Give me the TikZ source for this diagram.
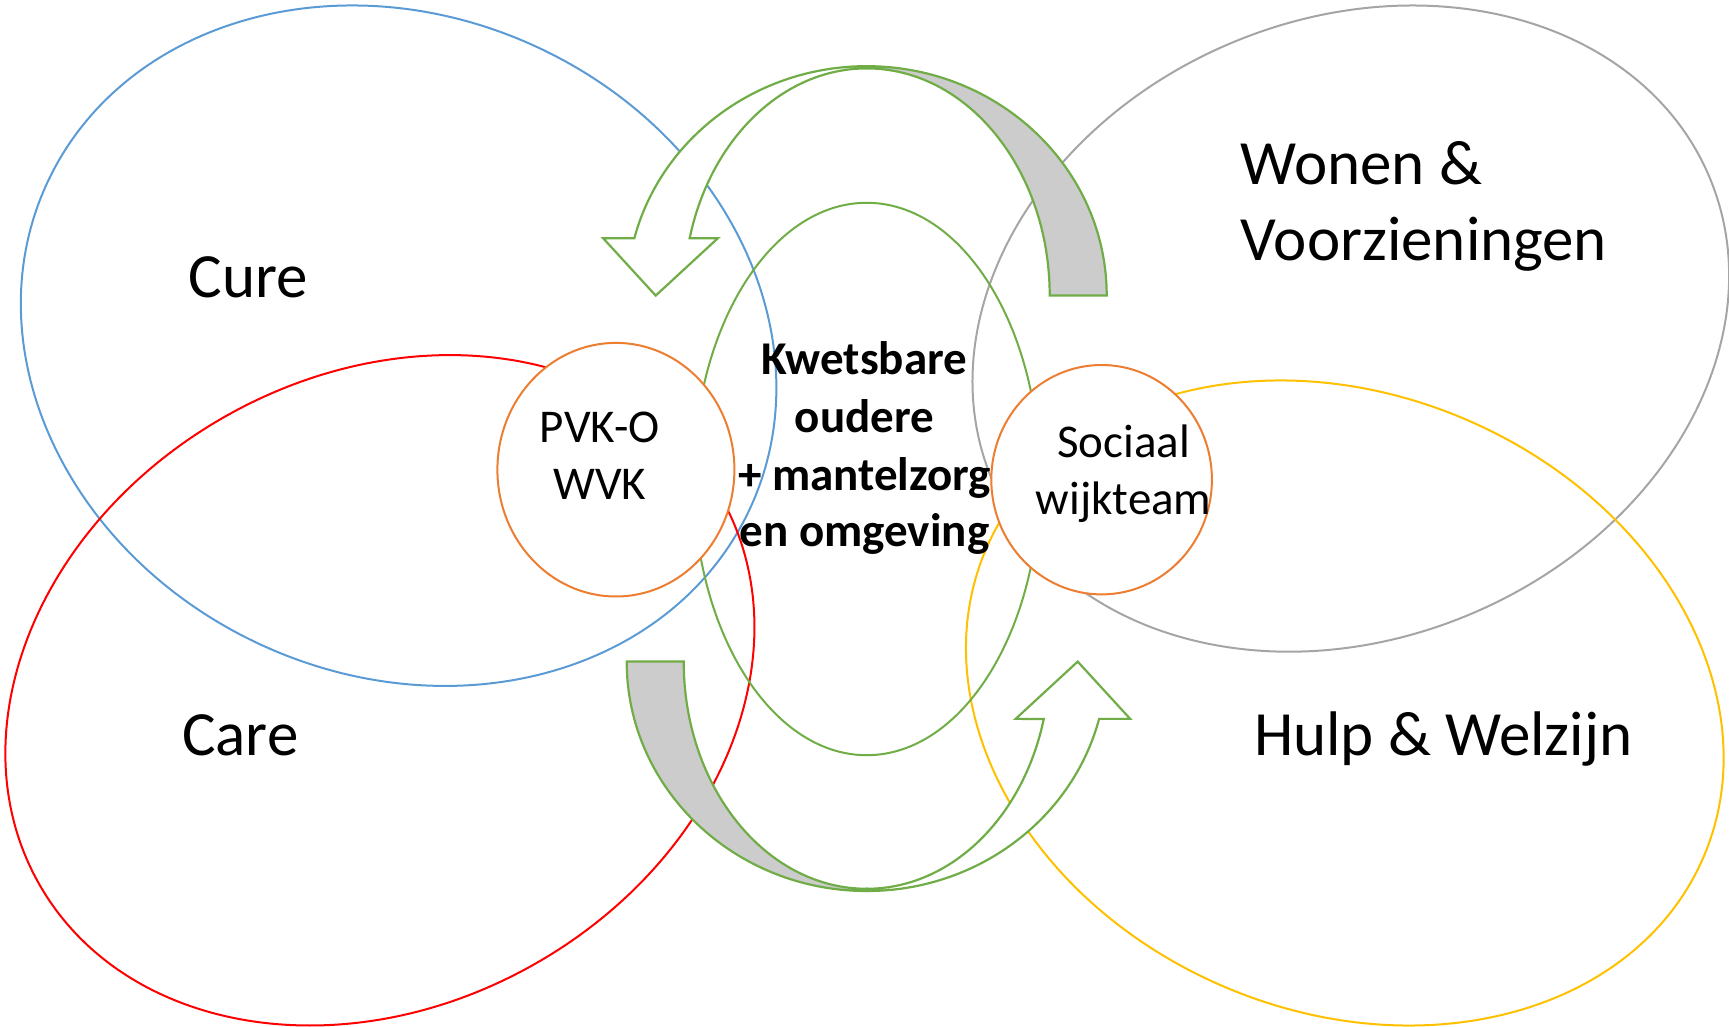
\documentclass[tikz,border=0pt]{standalone}
\usepackage{fontspec}
\setmainfont{Carlito}
\definecolor{cblue}{HTML}{5B9BD5}
\definecolor{cred}{HTML}{FF0000}
\definecolor{cgray}{HTML}{A5A5A5}
\definecolor{cyellow}{HTML}{FFC000}
\definecolor{cgreen}{HTML}{70AD47}
\definecolor{corange}{HTML}{ED7D31}
\definecolor{cfill}{HTML}{CCCCCC}
\begin{document}
\begin{tikzpicture}[x=1pt,y=1pt,
  ring/.style={line width=2pt},
  fieldring/.style={ring,draw},
  actor/.style={ring,draw=corange,fill=white},
  band/.style={line width=2.2pt,draw=cgreen,line join=miter},
  big/.style={inner sep=0pt,font=\fontsize{63}{76}\selectfont},
  mid/.style={inner sep=0pt,font=\fontsize{47}{57}\selectfont},
  core/.style={inner sep=0pt,font=\bfseries\fontsize{47}{57}\selectfont}]
\useasboundingbox (0,0) rectangle (1729,1026);
% domain ellipses
\draw[fieldring,cblue,shift={(398.6,680.3)},rotate=-24.85] (0,0) ellipse[x radius=387.3,y radius=329.2];
\draw[fieldring,cred,shift={(379.9,335.7)},rotate=29.7] (0,0) ellipse[x radius=392,y radius=314.5];
\draw[fieldring,cgray,shift={(1350.8,697.4)},rotate=23] (0,0) ellipse[x radius=389.3,y radius=309.6];
\draw[fieldring,cyellow,shift={(1344.8,323)},rotate=-23.27] (0,0) ellipse[x radius=390.4,y radius=308.3];
\draw[fieldring,cgreen] (866.7,547) ellipse[x radius=173.1,y radius=276.2];
% circular arrows
\foreach \rot in {0,180}{
\begin{scope}[rotate around={\rot:(866.7,547.4)}]
\filldraw[band,fill=white] (634.3,787.7) arc[start angle=165.54,end angle=90,x radius=240,y radius=229.4]
  -- (866.7,957.6) arc[start angle=90,end angle=165.39,x radius=183,y radius=227.2]
  -- (717.8,787.7) -- (655.7,730.4) -- (603.2,787.7) -- cycle;
\filldraw[band,fill=cfill] (866.7,959.8) arc[start angle=90,end angle=0,x radius=240,y radius=229.4]
  -- (1049.7,730.4) arc[start angle=0,end angle=90,x radius=183,y radius=227.2] -- cycle;
\end{scope}}
% actor circles
\draw[actor] (615.9,556.3) ellipse[x radius=118.5,y radius=126.8];
\draw[actor] (1101.6,546.3) ellipse[x radius=110.3,y radius=114.7];
% labels
\node[big,anchor=base west] (cure) at (188.6,728.3) {Cure};
\node[big,anchor=base west] (care) at (181.9,270.6) {Care};
\node[big,anchor=base west] (wonen) at (1240.5,841.8) {Wonen \&};
\node[big,anchor=base west] (voorz) at (1240.5,765.8) {Voorzieningen};
\node[big,anchor=base west] (hulp) at (1253.8,270.6) {Hulp \& Welzijn};
\node[mid,anchor=base] (pvk) at (599.9,583.8) {PVK-O};
\node[mid,anchor=base] (wvk) at (599.9,526.5) {WVK};
\node[mid,anchor=base] (soc) at (1123.7,568.4) {Sociaal};
\node[mid,anchor=base] (wijk) at (1123.7,511) {wijkteam};
\node[core,anchor=base] (k1) at (864.5,651.3) {Kwetsbare};
\node[core,anchor=base] (k2) at (864.5,593.9) {oudere};
\node[core,anchor=base] (k3) at (864.5,535.5) {+ mantelzorg};
\node[core,anchor=base] (k4) at (864.5,479.3) {en omgeving};
\end{tikzpicture}
\end{document}
